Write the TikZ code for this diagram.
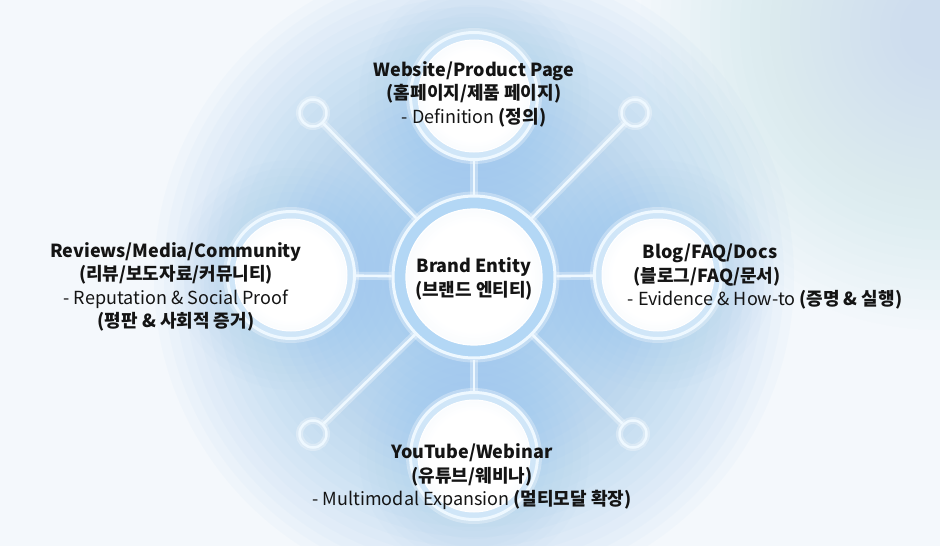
\documentclass[tikz,border=0pt]{standalone}
\usepackage{fontspec}
\setmainfont{Noto Sans CJK KR}
\definecolor{bg}{HTML}{F4F8FC}
\definecolor{glow}{HTML}{8AC0EE}
\definecolor{linew}{HTML}{EEF8FF}
\definecolor{band}{HTML}{B3D7F5}
\definecolor{satband}{HTML}{D0E6F8}
\definecolor{discedge}{HTML}{DDEBF8}
\definecolor{txt}{HTML}{141414}
\pgfdeclareradialshading{discshade}{\pgfpoint{0bp}{0bp}}{color(0bp)=(white); color(20bp)=(white); color(50bp)=(discedge)}
\tikzset{
  conn/.style={draw=linew, line width=2.6pt, preaction={draw=white, line width=8pt, opacity=0.3}},
  hub/.style={circle, draw=linew, line width=3pt, fill=band, minimum size=162pt, inner sep=0pt, preaction={draw=white, line width=9pt, opacity=0.3}},
  hubdisc/.style={circle, draw=white, line width=1.2pt, shading=discshade, minimum size=136pt, inner sep=0pt},
  sat/.style={circle, draw=linew, line width=3pt, fill=satband, minimum size=127pt, inner sep=0pt, preaction={draw=white, line width=9pt, opacity=0.3}},
  satdisc/.style={circle, draw=white, line width=1pt, shading=discshade, minimum size=112pt, inner sep=0pt},
  dot/.style={circle, draw=linew, line width=2.5pt, minimum size=27pt, inner sep=0pt, preaction={draw=white, line width=7pt, opacity=0.3}},
  lbl/.style={text=txt, align=center, inner sep=0pt, font=\fontsize{18}{23.5}\selectfont},
}
\begin{document}
\begin{tikzpicture}[x=1pt,y=-1pt]
\useasboundingbox (0,0) rectangle (940,546);
\clip (0,0) rectangle (940,546);
\fill[bg] (0,0) rectangle (940,546);
% soft background tint, top right
\foreach \r in {300,290,...,40} \fill[glow, opacity=0.012] (940,30) circle (\r);
% central glow
\foreach \r in {320,310,...,90} \fill[glow, opacity=0.042] (474,277) circle (\r);
\foreach \p in {(474,96),(291,275),(658,275),(474,456)} {
  \foreach \r in {115,107,...,65} \fill[glow, opacity=0.03] \p circle (\r);
}

% satellites
\node[sat] (T) at (474,96) {};
\node[satdisc] (Td) at (474,96) {};
\node[sat] (L) at (291,275) {};
\node[satdisc] (Ld) at (291,275) {};
\node[sat] (R) at (658,275) {};
\node[satdisc] (Rd) at (658,275) {};
\node[sat] (B) at (474,456) {};
\node[satdisc] (Bd) at (474,456) {};

% hub
\node[hub] (C) at (474,277) {};
\node[hubdisc] (Cd) at (474,277) {};

% small end circles
\node[dot] (d1) at (635,113) {};
\node[dot] (d2) at (313,113) {};
\node[dot] (d3) at (313,434) {};
\node[dot] (d4) at (633,434) {};

% connectors
\draw[conn] (C) -- (T);
\draw[conn] (C) -- (B);
\draw[conn] (C) -- (L);
\draw[conn] (C) -- (R);
\draw[conn] (C) -- (d1);
\draw[conn] (C) -- (d2);
\draw[conn] (C) -- (d3);
\draw[conn] (C) -- (d4);

% labels
\node[lbl] (tc) at (474,279) {\bfseries Brand Entity\\\bfseries (브랜드 엔티티)};
\node[lbl] (tt) at (474,94) {\bfseries Website/Product Page\\\bfseries (홈페이지/제품 페이지)\\- Definition {\bfseries (정의)}};
\node[lbl] (tl) at (176,287) {\bfseries Reviews/Media/Community\\\bfseries (리뷰/보도자료/커뮤니티)\\- Reputation \& Social Proof\\\bfseries (평판 \& 사회적 증거)};
\node[lbl] (tb) at (472,477) {\bfseries YouTube/Webinar\\\bfseries (유튜브/웨비나)\\- Multimodal Expansion {\bfseries (멀티모달 확장)}};
\node[lbl] (tr1) at (710,253) {\bfseries Blog/FAQ/Docs};
\node[lbl] (tr2) at (707,277) {\bfseries (블로그/FAQ/문서)};
\node[lbl] (tr3) at (765,300) {- Evidence \& How-to {\bfseries (증명 \& 실행)}};
\end{tikzpicture}
\end{document}
